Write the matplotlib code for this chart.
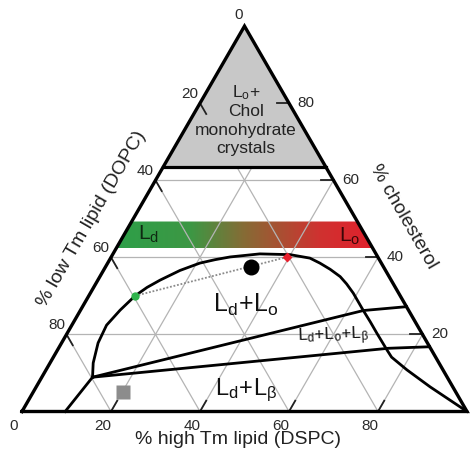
import numpy as np
import matplotlib
matplotlib.use("Agg")
import matplotlib.pyplot as plt
from matplotlib.patches import Polygon
from matplotlib.colors import LinearSegmentedColormap

plt.rcParams['font.family'] = ['Liberation Sans', 'DejaVu Sans']
plt.rcParams['mathtext.fontset'] = 'custom'
plt.rcParams['mathtext.rm'] = 'Liberation Sans'
plt.rcParams['mathtext.it'] = 'Liberation Sans:italic'
plt.rcParams['mathtext.bf'] = 'Liberation Sans:bold'

# ---------------- data (mol %: DSPC, cholesterol; DOPC = rest) ----------------
tick_values = [0, 20, 40, 60, 80]
grid_values = [20, 40, 60, 80]

binodal_dspc = [11.4, 9.7, 8.2, 7.8, 8.9, 10.4, 12.0, 14.0, 17.2, 20.7, 23.7, 26.7,
                33.0, 39.9, 44.8, 47.7, 50.8, 54.0, 56.4, 59.1, 61.3, 63.5, 66.6,
                69.6, 74.0, 76.0, 81.1, 88.5, 100.0]
binodal_chol = [8.9, 12.6, 17.8, 22.4, 26.3, 30.0, 32.2, 34.1, 36.6, 38.5, 39.4, 40.1,
                40.9, 40.7, 39.8, 38.5, 36.9, 35.0, 33.1, 30.7, 28.5, 26.3, 23.3,
                20.3, 16.0, 14.1, 10.8, 6.4, 0.0]

ld_lb_dspc = [9.7, 11.4]
ld_lb_chol = [0.0, 8.9]
upper_3ph_dspc = [11.4, 63.6, 72.8]
upper_3ph_chol = [8.9, 26.2, 27.2]
lower_3ph_dspc = [11.4, 74.1, 83.2]
lower_3ph_chol = [8.9, 16.4, 16.8]

crystal_limit_chol = 63.5
band_chol_low, band_chol_high = 42.3, 49.3

tieline_dspc = [10.4, 39.6]
tieline_chol = [30.0, 40.1]
sample_dspc, sample_chol = 32.6, 37.6
gel_dspc, gel_chol = 20.2, 5.1

SQ3 = np.sqrt(3) / 2


def tern(dspc, chol):
    d = np.asarray(dspc, float) / 100.0
    c = np.asarray(chol, float) / 100.0
    return d + c / 2.0, c * SQ3


fig = plt.figure(figsize=(4.76, 4.61), dpi=100)
ax = fig.add_axes([0, 0, 1, 1])
ax.axis('off')

# ---- gradient band (Ld -> Lo) ----
bx, by = tern([0, 100 - band_chol_low, 100 - band_chol_high, 0],
              [band_chol_low, band_chol_low, band_chol_high, band_chol_high])
band_poly = Polygon(np.column_stack([bx, by]), closed=True, facecolor='none',
                    edgecolor='none')
ax.add_patch(band_poly)
cmap = LinearSegmentedColormap.from_list('ldlo', [
    (0.0, '#2ca049'), (0.30, '#3d9744'), (0.50, '#876b35'),
    (0.78, '#cf3230'), (1.0, '#e21f2c')])
grad = np.linspace(0, 1, 256).reshape(1, -1)
im = ax.imshow(grad, extent=[0.2, 0.8, by.min(), by.max()], aspect='auto',
               cmap=cmap, zorder=1, interpolation='bilinear')
im.set_clip_path(band_poly)

# ---- grid lines ----
for v in grid_values:
    for (d0, c0, d1, c1) in [(0, v, 100 - v, v), (v, 0, v, 100 - v),
                             (100 - v, 0, 0, 100 - v)]:
        gx, gy = tern([d0, d1], [c0, c1])
        ax.plot(gx, gy, color='#b4b4b4', lw=0.9, zorder=2)

# ---- ticks ----
tl = 2.8
for v in grid_values:
    for (d0, c0, d1, c1) in [(v, 0, v, tl), (0, 100 - v, tl, 100 - v - tl),
                             (100 - v, v, 100 - v - tl, v)]:
        gx, gy = tern([d0, d1], [c0, c1])
        ax.plot(gx, gy, color='#222222', lw=1.3, zorder=4)

# ---- crystal region ----
gx, gy = tern([0, 100 - crystal_limit_chol, 0],
              [crystal_limit_chol, crystal_limit_chol, 100])
ax.add_patch(Polygon(np.column_stack([gx, gy]), closed=True,
                     facecolor='#c8c8c8', edgecolor='none', zorder=3))
ax.plot(gx[:2], gy[:2], color='black', lw=2.3, zorder=5)

# ---- phase boundaries ----
lw_b = 2.0
x, y = tern(binodal_dspc, binodal_chol)
ax.plot(x, y, color='black', lw=lw_b, zorder=5, solid_joinstyle='round')
for dd, cc in [(ld_lb_dspc, ld_lb_chol), (upper_3ph_dspc, upper_3ph_chol),
               (lower_3ph_dspc, lower_3ph_chol)]:
    x, y = tern(dd, cc)
    ax.plot(x, y, color='black', lw=lw_b, zorder=5, solid_joinstyle='round')

# ---- triangle outline ----
ox, oy = tern([0, 100, 0, 0], [0, 0, 100, 0])
ax.plot(ox, oy, color='black', lw=2.4, zorder=6, solid_joinstyle='miter')

# ---- tie line & points ----
x, y = tern(tieline_dspc, tieline_chol)
ax.plot(x, y, color='#8a8a8a', lw=1.3, ls=(0, (1, 1)), zorder=6)
ax.plot(x[:1], y[:1], 'o', color='#2fb34c', ms=6, mec='none', zorder=7)
ax.plot(x[1:], y[1:], 'D', color='#e8202e', ms=5.5, mec='none', zorder=7)
x, y = tern([sample_dspc], [sample_chol])
ax.plot(x, y, 'o', color='black', ms=10.5, zorder=7)
x, y = tern([gel_dspc], [gel_chol])
ax.plot(x, y, 's', color='#8c8c8c', ms=10.5, mec='none', zorder=7)

# ---- tick labels ----
tick_col = '#2a2a2a'
tfs = 11
for v in tick_values:
    # bottom axis: DSPC
    px, py = tern([v], [0])
    ax.annotate(str(v), (px[0], py[0]), xytext=(-8, -14), textcoords='offset pixels',
                ha='center', va='center', fontsize=tfs, color=tick_col)
    # left axis: DOPC
    px, py = tern([0], [100 - v])
    off = (-6, 11) if v == 0 else (-10, 9)
    ax.annotate(str(v), (px[0], py[0]), xytext=off, textcoords='offset pixels',
                ha='center', va='center', fontsize=tfs, color=tick_col)
for v in grid_values:
    px, py = tern([100 - v], [v])
    ax.annotate(str(v), (px[0], py[0]), xytext=(17, 0), textcoords='offset pixels',
                ha='center', va='center', fontsize=tfs, color=tick_col)

# ---- axis titles ----
afs = 14
ax.text(0.486, -0.064, '% high Tm lipid (DSPC)', ha='center', va='center',
        fontsize=afs, color='#222222')
ax.text(0.157, 0.4326, '% low Tm lipid (DOPC)', ha='center', va='center',
        fontsize=afs, color='#222222', rotation=60, rotation_mode='anchor')
ax.text(0.856, 0.439, '% cholesterol', ha='center', va='center',
        fontsize=afs, color='#222222', rotation=-60, rotation_mode='anchor')

# ---- region labels ----
ax.text(0.5022, 0.2242, r'$\mathregular{L_d\!+\!L_o}$', ha='center', va='baseline',
        fontsize=18, color='#111111', zorder=8)
ax.text(0.5045, 0.0371, r'$\mathregular{L_d\!+\!L_\beta}$', ha='center', va='baseline',
        fontsize=17, color='#111111', zorder=8)
ax.text(0.6996, 0.1569, r'$\mathregular{L_d\!+\!L_o\!+\!L_\beta}$', ha='center',
        va='baseline', fontsize=12, color='#111111', rotation=2, zorder=8)
ax.text(0.2843, 0.387, r'$\mathregular{L_d}$', ha='center', va='baseline',
        fontsize=15, color='#0f2a12', zorder=8)
ax.text(0.737, 0.3816, r'$\mathregular{L_o}$', ha='center', va='baseline',
        fontsize=15, color='#3a0707', zorder=8)

cx = 0.503
gfs = 12.5
ax.text(cx, (411.5 - 97) / 445, r'$\mathregular{L_o}$+', ha='center', va='baseline',
        fontsize=gfs, color='#222222', zorder=8)
for txt, base in [('Chol', 115.5), ('monohydrate', 134.5), ('crystals', 153.5)]:
    ax.text(cx, (411.5 - base) / 445, txt, ha='center', va='baseline',
            fontsize=gfs, color='#222222', zorder=8)

ax.set_xlim(-22 / 445, (476 - 22) / 445)
ax.set_ylim(-(461 - 411.5) / 445, 411.5 / 445)

fig.savefig('out.png', dpi=100, facecolor='white')
